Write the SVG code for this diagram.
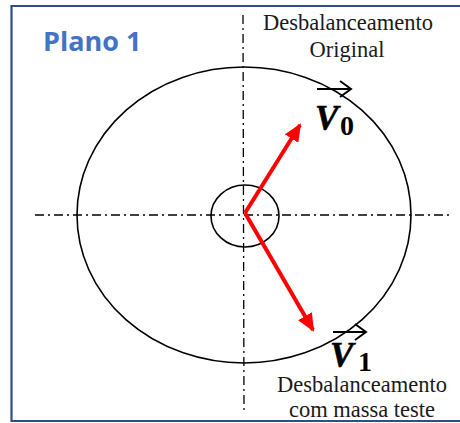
<svg xmlns="http://www.w3.org/2000/svg" width="460" height="423" viewBox="0 0 460 423">
<style>
.axis{stroke:#000;stroke-width:1.3;stroke-dasharray:9,4,2,4;fill:none}
.circ{stroke:#000;stroke-width:1.6;fill:none}
.vec{stroke:#ff0000;stroke-width:4;fill:none}
.lbl{font-family:"Liberation Serif","Times New Roman",serif;font-size:22.5px;fill:#1a1a1a;text-anchor:middle}
.vv{font-family:"Liberation Serif","Times New Roman",serif;font-weight:bold;fill:#000}
.over{stroke:#000;stroke-width:2;fill:none}
</style>
<defs>
<marker id="ah" markerUnits="userSpaceOnUse" markerWidth="20" markerHeight="16" refX="16" refY="8" orient="auto">
<path d="M0,0 L18,8 L0,16 Z" fill="#ff0000"/>
</marker>
</defs>
<rect x="0" y="0" width="460" height="423" fill="#fff"/>
<path d="M470,6 H11.5 V421 H470" fill="none" stroke="#2f4f82" stroke-width="2.2"/>
<g id="title"><text x="43" y="51" font-family="'Open Sans','Liberation Sans',sans-serif" font-weight="bold" font-size="27" fill="#4472c4">Plano 1</text></g>
<g id="axes">
<line class="axis" x1="35" y1="215" x2="452" y2="215"/>
<line class="axis" x1="243" y1="15" x2="244" y2="410"/>
</g>
<g id="outer"><ellipse class="circ" cx="244" cy="215" rx="167" ry="148"/></g>
<g id="inner"><ellipse class="circ" cx="245" cy="216" rx="34" ry="31"/></g>
<g id="connectors">
<line class="vec" x1="245" y1="213" x2="300" y2="125" marker-end="url(#ah)"/>
<line class="vec" x1="245" y1="213" x2="313" y2="330" marker-end="url(#ah)"/>
</g>
<g id="v0">
<path class="over" d="M317,89 H351 M340,81 L351,89 L340,97"/>
<text class="vv" x="315" y="130" font-size="35" font-style="italic" stroke="#000" stroke-width="0.6">V</text>
<text class="vv" x="340" y="135" font-size="28">0</text>
</g>
<g id="v1">
<path class="over" d="M333,332 H366 M355,324 L366,332 L355,340"/>
<text class="vv" x="330" y="367" font-size="35" font-style="italic" stroke="#000" stroke-width="0.6">V</text>
<text class="vv" x="358" y="371" font-size="28">1</text>
</g>
<g id="label-top">
<text class="lbl" x="348" y="30">Desbalanceamento</text>
<text class="lbl" x="347" y="57">Original</text>
</g>
<g id="label-bottom">
<text class="lbl" x="362" y="392">Desbalanceamento</text>
<text class="lbl" x="362" y="417">com massa teste</text>
</g>
</svg>
